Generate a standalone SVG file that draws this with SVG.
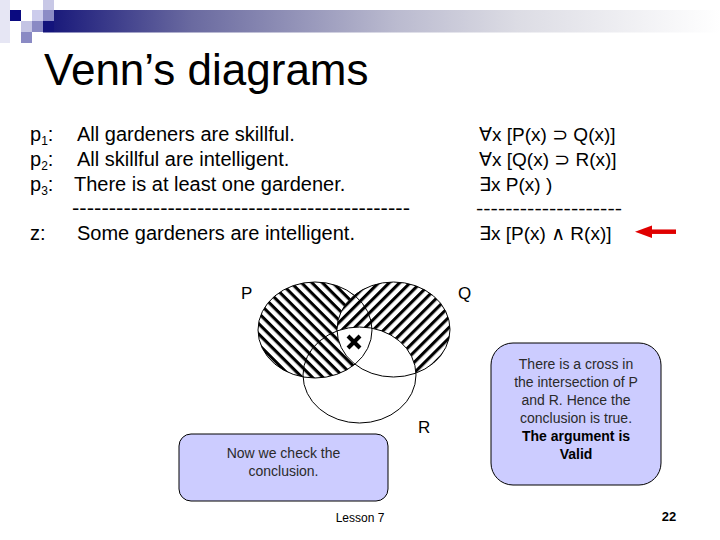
<svg xmlns="http://www.w3.org/2000/svg" width="720" height="540" viewBox="0 0 720 540">
<style>
text{font-family:"Liberation Sans",Arial,"DejaVu Sans",sans-serif;fill:#000}
.body{font-size:20px}
.math{font-size:19px;font-family:"Liberation Sans","DejaVu Sans",sans-serif}
.lbl{font-size:17px}
.note{font-size:14px;fill:#2a2a2a}
.bold{font-size:14px;font-weight:bold}
.venn{fill:none;stroke:#000;stroke-width:1}
.box{fill:#ccccff;stroke:#000;stroke-width:1}
</style>
<defs>
<linearGradient id="bar" x1="0" y1="0" x2="1" y2="0">
<stop offset="0" stop-color="#141478"/>
<stop offset="0.22" stop-color="#6a6aa0"/>
<stop offset="0.52" stop-color="#babacf"/>
<stop offset="0.7" stop-color="#dcdce4"/>
<stop offset="1" stop-color="#ffffff"/>
</linearGradient>
<pattern id="back" width="7.4" height="7.4" patternUnits="userSpaceOnUse" patternTransform="rotate(45)">
<rect x="0" y="0" width="7.4" height="3.1" fill="#000"/>
</pattern>
<pattern id="fwd" width="7.4" height="7.4" patternUnits="userSpaceOnUse" patternTransform="rotate(-45)">
<rect x="0" y="0" width="7.4" height="3.1" fill="#000"/>
</pattern>
<mask id="pMinusQ" maskUnits="userSpaceOnUse" x="0" y="0" width="720" height="540">
<ellipse cx="315" cy="330" rx="57" ry="48" fill="#fff"/>
<ellipse cx="393.5" cy="329.5" rx="56.5" ry="47.5" fill="#000"/>
</mask>
<mask id="qMinusR" maskUnits="userSpaceOnUse" x="0" y="0" width="720" height="540">
<ellipse cx="393.5" cy="329.5" rx="56.5" ry="47.5" fill="#fff"/>
<ellipse cx="359.5" cy="375" rx="56.5" ry="48" fill="#000"/>
</mask>
</defs>
<rect width="720" height="540" fill="#fff"/>
<g id="decoration">
<rect x="0" y="0" width="10" height="43" fill="#e6e6f4"/>
<rect x="43" y="10" width="677" height="22.5" fill="url(#bar)"/>
<rect x="10" y="10" width="11" height="11" fill="#0a0a80"/>
<rect x="21" y="21" width="11" height="11" fill="#c4c4e4"/>
<rect x="32" y="10" width="11" height="11" fill="#ccccec"/>
<rect x="43" y="0" width="11" height="10" fill="#c8c8e6"/>
<rect x="43" y="10" width="11" height="11" fill="#8c8cc6"/>
<rect x="32" y="21" width="11" height="11" fill="#8a8ac4"/>
<rect x="43" y="21" width="11" height="11" fill="#14147c"/>
<rect x="21" y="32" width="11" height="11" fill="#8a8ac4"/>
</g>
<g id="title"><text x="44" y="85" font-size="44">Venn’s diagrams</text></g>
<g id="premises">
<text class="body" x="30" y="141">p<tspan font-size="12" dy="4">1</tspan><tspan dy="-4">:</tspan><tspan x="77">All gardeners are skillful.</tspan></text>
<text class="body" x="30" y="166">p<tspan font-size="12" dy="4">2</tspan><tspan dy="-4">:</tspan><tspan x="77">All skillful are intelligent.</tspan></text>
<text class="body" x="30" y="191">p<tspan font-size="12" dy="4">3</tspan><tspan dy="-4">:</tspan><tspan x="74">There is at least one gardener.</tspan></text>
<text class="body" x="72" y="215" textLength="338" lengthAdjust="spacingAndGlyphs">----------------------------------------------</text>
<text class="body" x="30" y="240">z:<tspan x="77">Some gardeners are intelligent.</tspan></text>
</g>
<g id="formulas">
<text class="math" x="479" y="141">∀x [P(x) ⊃ Q(x)]</text>
<text class="math" x="479" y="166">∀x [Q(x) ⊃ R(x)]</text>
<text class="math" x="479" y="191">∃x P(x) )</text>
<text class="math" x="476" y="215" textLength="146" lengthAdjust="spacingAndGlyphs">--------------------</text>
<text class="math" x="479" y="240">∃x [P(x) ∧ R(x)]</text>
</g>
<g id="connectors">
<line x1="648" y1="231.7" x2="676" y2="231.7" stroke="#e00000" stroke-width="4.5"/>
<polygon points="635,231.7 652,225.5 652,238" fill="#e00000"/>
</g>
<g id="venn">
<rect x="0" y="0" width="720" height="540" fill="url(#back)" mask="url(#pMinusQ)"/>
<rect x="0" y="0" width="720" height="540" fill="url(#fwd)" mask="url(#qMinusR)"/>
<g id="P"><ellipse class="venn" cx="315" cy="330" rx="57" ry="48"/><text class="lbl" x="241" y="299">P</text></g>
<g id="Q"><ellipse class="venn" cx="393.5" cy="329.5" rx="56.5" ry="47.5"/><text class="lbl" x="458" y="299">Q</text></g>
<g id="R"><ellipse class="venn" cx="359.5" cy="375" rx="56.5" ry="48"/><text class="lbl" x="418" y="433">R</text></g>
<g id="cross" stroke="#000" stroke-width="4" stroke-linecap="butt">
<line x1="348" y1="336" x2="360" y2="348"/>
<line x1="360" y1="336" x2="348" y2="348"/>
</g>
</g>
<g id="box-left">
<rect class="box" x="179" y="434" width="209" height="67" rx="12" ry="12"/>
<text class="note" x="283.5" y="458" text-anchor="middle">Now we check the</text>
<text class="note" x="283.5" y="476" text-anchor="middle">conclusion.</text>
</g>
<g id="box-right">
<rect class="box" x="491" y="343" width="170" height="142" rx="22" ry="22"/>
<text class="note" x="576" y="369" text-anchor="middle">There is a cross in</text>
<text class="note" x="576" y="387" text-anchor="middle">the intersection of P</text>
<text class="note" x="576" y="405" text-anchor="middle">and R. Hence the</text>
<text class="note" x="576" y="423" text-anchor="middle">conclusion is true.</text>
<text class="bold" x="576" y="441" text-anchor="middle">The argument is</text>
<text class="bold" x="576" y="459" text-anchor="middle">Valid</text>
</g>
<g id="footer">
<text x="360" y="522" font-size="12" text-anchor="middle">Lesson 7</text>
<text x="669" y="521" font-size="13" font-weight="bold" text-anchor="middle">22</text>
</g>
</svg>
